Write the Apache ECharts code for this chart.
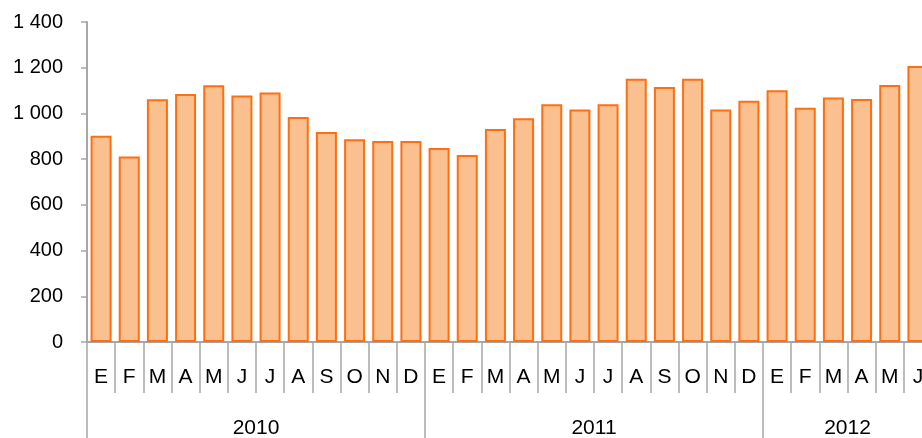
<!DOCTYPE html>
<html>
<head>
<meta charset="utf-8">
<script src="https://cdn.jsdelivr.net/npm/echarts@6/dist/echarts.min.js"></script>
<style>
html,body{margin:0;padding:0;background:#fff;}
#chart{width:922px;height:438px;}
</style>
</head>
<body>
<div id="chart"></div>
<script>
// ---- data ----
const months = ['E','F','M','A','M','J','J','A','S','O','N','D'];
const years = ['2010','2011','2012'];
const monthsPerYear = [12, 12, 6];
const v2010 = [902, 812, 1062, 1085, 1123, 1078, 1092, 984, 919, 887, 879, 879];
const v2011 = [849, 818, 932, 979, 1040, 1017, 1040, 1152, 1116, 1152, 1017, 1056];
const v2012 = [1101, 1025, 1070, 1063, 1124, 1207];
const yTicks = [0, 200, 400, 600, 800, 1000, 1200, 1400];

// ---- build ----
const seriesByYear = [v2010, v2011, v2012];
const categories = [];
const values = [];
years.forEach((y, yi) => {
  for (let m = 0; m < monthsPerYear[yi]; m++) {
    categories.push(y + '|' + months[m]);
    values.push(seriesByYear[yi][m]);
  }
});
const total = categories.length;
const boundaries = [0];
const centers = [];
let acc = 0;
monthsPerYear.forEach(n => { centers.push(acc + n / 2); acc += n; boundaries.push(acc); });

const fmtNum = v => String(v).replace(/\B(?=(\d{3})+(?!\d))/g, ' ');
const FONT = 'Liberation Sans, Arial, sans-serif';
const AXIS_GRAY = '#A6A6A6';

const chart = echarts.init(document.getElementById('chart'), null, {renderer: 'canvas'});
chart.setOption({
  animation: false,
  backgroundColor: '#ffffff',
  grid: {left: 87, top: 22, width: 845, height: 320, containLabel: false, outerBoundsMode: 'none'},
  xAxis: [
    {
      type: 'category',
      data: categories,
      position: 'bottom',
      boundaryGap: true,
      axisLine: {show: true, lineStyle: {color: AXIS_GRAY, width: 2}},
      axisTick: {show: true, alignWithLabel: false, interval: 0, length: 51, lineStyle: {color: AXIS_GRAY, width: 1.5}},
      axisLabel: {
        interval: 0, margin: 25, color: '#000', fontSize: 21, fontFamily: FONT,
        formatter: v => v.split('|')[1]
      },
      splitLine: {show: false}
    },
    {
      type: 'value',
      position: 'bottom',
      min: 0, max: total,
      axisLine: {show: false},
      axisTick: {show: true, customValues: boundaries, length: 96, lineStyle: {color: AXIS_GRAY, width: 1.5}},
      axisLabel: {
        show: true, customValues: centers, margin: 76, color: '#000', fontSize: 21, fontFamily: FONT,
        formatter: v => { const i = centers.indexOf(v); return i >= 0 ? years[i] : ''; }
      },
      splitLine: {show: false}
    }
  ],
  yAxis: {
    type: 'value',
    min: yTicks[0], max: yTicks[yTicks.length - 1], interval: yTicks[1] - yTicks[0],
    axisLine: {show: true, lineStyle: {color: AXIS_GRAY, width: 2}},
    axisTick: {show: true, length: 6, lineStyle: {color: AXIS_GRAY, width: 1.5}},
    axisLabel: {margin: 24, color: '#000', fontSize: 20, fontFamily: FONT, formatter: fmtNum},
    splitLine: {show: false}
  },
  series: [{
    type: 'bar',
    xAxisIndex: 0,
    data: values,
    barWidth: 21,
    itemStyle: {color: '#FAC090', borderColor: '#FF6E10', borderWidth: 2},
    emphasis: {disabled: true}
  }]
});
</script>
</body>
</html>
